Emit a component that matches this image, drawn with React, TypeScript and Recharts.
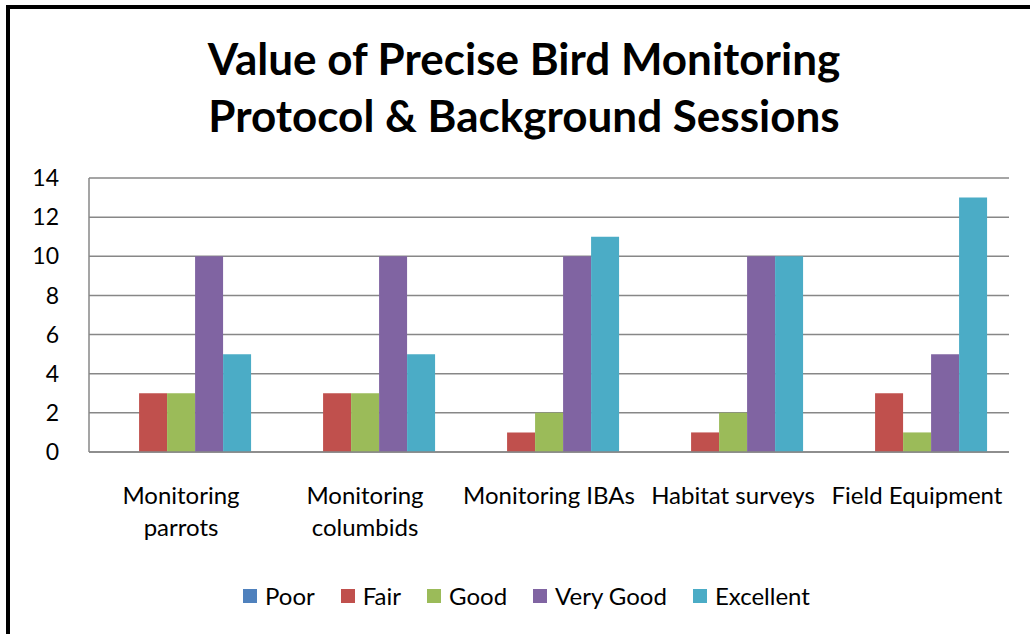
import React from "react";
import { BarChart, Bar, XAxis, YAxis, CartesianGrid, Legend } from "recharts";

const categories = [
  "Monitoring parrots",
  "Monitoring columbids",
  "Monitoring IBAs",
  "Habitat surveys",
  "Field Equipment",
];
const poor = [0, 0, 0, 0, 0];
const fair = [3, 3, 1, 1, 3];
const good = [3, 3, 2, 2, 1];
const veryGood = [10, 10, 10, 10, 5];
const excellent = [5, 5, 11, 10, 13];
const yTicks = [0, 2, 4, 6, 8, 10, 12, 14];

const seriesNames = ["Poor", "Fair", "Good", "Very Good", "Excellent"];
const seriesKeys = ["poor", "fair", "good", "veryGood", "excellent"];
const seriesColors = ["#4F81BD", "#C0504D", "#9BBB59", "#8064A2", "#4BACC6"];

const data = categories.map((name, i) => ({
  name,
  poor: poor[i],
  fair: fair[i],
  good: good[i],
  veryGood: veryGood[i],
  excellent: excellent[i],
}));

const FONT = "Lato, 'Open Sans', sans-serif";
const TICK_SIZE = 24;

let ctx: CanvasRenderingContext2D | null = null;
function measure(s: string): number {
  if (!ctx) {
    const c = document.createElement("canvas");
    ctx = c.getContext("2d");
  }
  if (!ctx) return s.length * TICK_SIZE * 0.5;
  ctx.font = `${TICK_SIZE}px ${FONT}`;
  return ctx.measureText(s).width;
}

function wrap(label: string, maxWidth: number): string[] {
  const words = label.split(" ");
  const lines: string[] = [];
  let cur = "";
  for (const w of words) {
    const next = cur ? cur + " " + w : w;
    if (cur && measure(next) > maxWidth) {
      lines.push(cur);
      cur = w;
    } else {
      cur = next;
    }
  }
  if (cur) lines.push(cur);
  return lines;
}

const XTick = (props: any) => {
  const { x, y, payload } = props;
  const lines = wrap(String(payload.value), 180);
  return (
    <text
      x={x}
      y={y + 44}
      textAnchor="middle"
      style={{ fontFamily: FONT, fontSize: TICK_SIZE, fill: "#000" }}
    >
      {lines.map((l, i) => (
        <tspan key={i} x={x} dy={i === 0 ? 0 : 32}>
          {l}
        </tspan>
      ))}
    </text>
  );
};

const LegendContent = () => (
  <div style={{ display: "flex", alignItems: "center", fontFamily: FONT, fontSize: 24, color: "#000" }}>
    {seriesNames.map((n, i) => (
      <div key={n} style={{ display: "flex", alignItems: "center", marginRight: 26 }}>
        <div style={{ width: 14, height: 14, background: seriesColors[i], marginRight: 8 }} />
        <span>{n}</span>
      </div>
    ))}
  </div>
);

export default function App() {
  return (
    <div style={{ position: "absolute", left: 0, top: 0, width: 1030, height: 634, background: "#fff", overflow: "hidden" }}>
      <div
        style={{
          position: "absolute",
          left: 6,
          top: 5,
          width: 1100,
          height: 700,
          borderTop: "4px solid #000",
          borderLeft: "4px solid #000",
        }}
      />
      <div
        style={{
          position: "absolute",
          left: 24,
          width: 1000,
          top: 30,
          textAlign: "center",
          fontFamily: FONT,
          fontWeight: 700,
          fontSize: 44,
          lineHeight: "57px",
          color: "#000",
        }}
      >
        Value of Precise Bird Monitoring
        <br />
        Protocol &amp; Background Sessions
      </div>
      <div style={{ position: "absolute", left: 0, top: 0 }}>
        <BarChart
          width={1030}
          height={634}
          data={data}
          margin={{ top: 178, right: 21, bottom: 0, left: 0 }}
          barCategoryGap="12%"
          barGap={0}
        >
          <CartesianGrid vertical={false} stroke="#878787" strokeWidth={1.5} />
          <XAxis
            dataKey="name"
            height={182}
            tickLine={false}
            axisLine={{ stroke: "#878787", strokeWidth: 1.5 }}
            tick={<XTick />}
            interval={0}
          />
          <YAxis
            width={89}
            domain={[0, 14]}
            ticks={yTicks}
            tickLine={false}
            axisLine={{ stroke: "#878787", strokeWidth: 1.5 }}
            tick={{ fontFamily: FONT, fontSize: 23, fill: "#000" }}
            tickMargin={24}
          />
          <Legend
            verticalAlign="middle"
            wrapperStyle={{ top: 581, left: 243, width: 780 }}
            content={<LegendContent />}
          />
          {seriesKeys.map((k, i) => (
            <Bar key={k} dataKey={k} name={seriesNames[i]} fill={seriesColors[i]} isAnimationActive={false} />
          ))}
        </BarChart>
      </div>
    </div>
  );
}
